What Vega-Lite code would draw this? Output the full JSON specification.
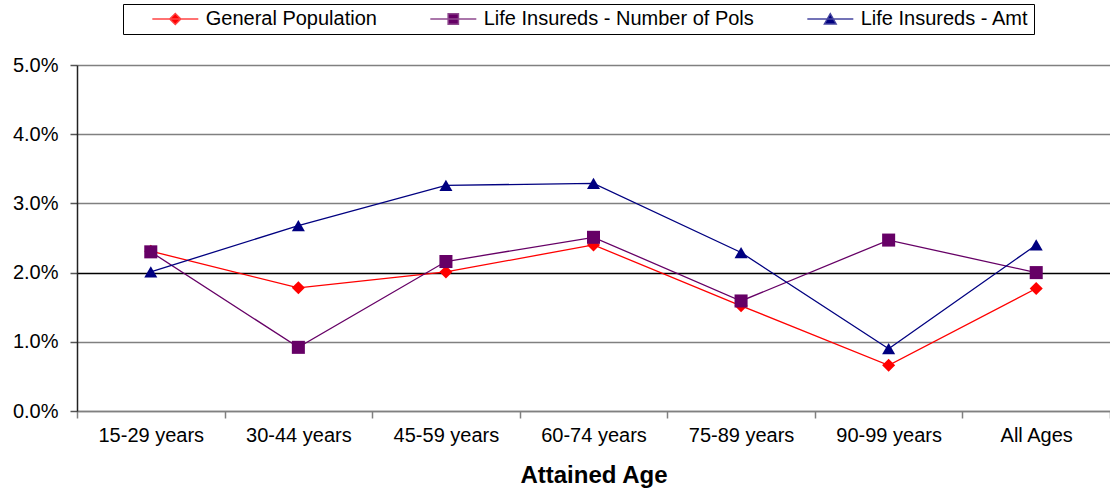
{
  "$schema": "https://vega.github.io/schema/vega-lite/v6.json",
  "autosize": "none",
  "width": 1033,
  "height": 346,
  "padding": {"left": 77, "top": 65, "right": 0, "bottom": 78},
  "background": "white",
  "config": {
    "font": "Liberation Sans",
    "view": {"stroke": null},
    "legend": {
      "orient": "none",
      "legendX": 46,
      "legendY": -61,
      "direction": "horizontal",
      "padding": 5,
      "strokeColor": "black",
      "fillColor": "white",
      "labelFont": "Liberation Sans",
      "labelFontSize": 20,
      "labelColor": "black",
      "labelLimit": 500,
      "symbolSize": 256,
      "symbolStrokeWidth": 1.4,
      "labelOffset": 57.7,
      "columnPadding": 29,
      "title": null
    }
  },
  "data": {
    "values": [
      {"age": "15-29 years", "series": "General Population", "rate": 0.0231},
      {"age": "30-44 years", "series": "General Population", "rate": 0.0178},
      {"age": "45-59 years", "series": "General Population", "rate": 0.0201},
      {"age": "60-74 years", "series": "General Population", "rate": 0.0240},
      {"age": "75-89 years", "series": "General Population", "rate": 0.0152},
      {"age": "90-99 years", "series": "General Population", "rate": 0.0066},
      {"age": "All Ages", "series": "General Population", "rate": 0.0177},
      {"age": "15-29 years", "series": "Life Insureds - Number of Pols", "rate": 0.0230},
      {"age": "30-44 years", "series": "Life Insureds - Number of Pols", "rate": 0.0092},
      {"age": "45-59 years", "series": "Life Insureds - Number of Pols", "rate": 0.0216},
      {"age": "60-74 years", "series": "Life Insureds - Number of Pols", "rate": 0.0251},
      {"age": "75-89 years", "series": "Life Insureds - Number of Pols", "rate": 0.0159},
      {"age": "90-99 years", "series": "Life Insureds - Number of Pols", "rate": 0.0247},
      {"age": "All Ages", "series": "Life Insureds - Number of Pols", "rate": 0.0200},
      {"age": "15-29 years", "series": "Life Insureds - Amt", "rate": 0.0201},
      {"age": "30-44 years", "series": "Life Insureds - Amt", "rate": 0.0268},
      {"age": "45-59 years", "series": "Life Insureds - Amt", "rate": 0.0326},
      {"age": "60-74 years", "series": "Life Insureds - Amt", "rate": 0.0329},
      {"age": "75-89 years", "series": "Life Insureds - Amt", "rate": 0.0229},
      {"age": "90-99 years", "series": "Life Insureds - Amt", "rate": 0.0090},
      {"age": "All Ages", "series": "Life Insureds - Amt", "rate": 0.0240}
    ]
  },
  "encoding": {
    "x": {
      "field": "age",
      "type": "nominal",
      "bandPosition": 0.5,
      "sort": null,
      "scale": {"type": "band", "paddingInner": 0, "paddingOuter": 0},
      "axis": {
        "title": "Attained Age",
        "titleFont": "Liberation Sans",
        "titleFontSize": 24,
        "titleFontWeight": "bold",
        "titleColor": "black",
        "titlePadding": 18,
        "labelAngle": 0,
        "labelFontSize": 20,
        "labelColor": "black",
        "labelPadding": 7,
        "tickBand": "extent",
        "tickSize": 7,
        "tickColor": "#808080",
        "tickWidth": 1.5,
        "domainColor": "#808080",
        "domainWidth": 1.5,
        "grid": false
      }
    },
    "y": {
      "field": "rate",
      "type": "quantitative",
      "scale": {"domain": [0, 0.05], "nice": false},
      "axis": {
        "title": null,
        "format": ".1%",
        "values": [0, 0.01, 0.02, 0.03, 0.04, 0.05],
        "labelFontSize": 20,
        "labelColor": "black",
        "labelPadding": 12,
        "tickSize": 7,
        "tickColor": "#555555",
        "tickWidth": 1.5,
        "domainColor": "#222222",
        "domainWidth": 1.5,
        "grid": true,
        "gridColor": {"condition": {"test": "abs(datum.value - 0.02) < 1e-9", "value": "#000000"}, "value": "#808080"},
        "gridWidth": 1.5
      }
    }
  },
  "layer": [
    {
      "mark": {"type": "line", "strokeWidth": 1.3},
      "encoding": {
        "color": {
          "field": "series",
          "type": "nominal",
          "scale": {"domain": ["General Population", "Life Insureds - Number of Pols", "Life Insureds - Amt"], "range": ["#FF0000", "#660066", "#000080"]},
          "legend": null
        }
      }
    },
    {
      "mark": {"type": "point", "filled": true, "opacity": 1},
      "encoding": {
        "color": {
          "field": "series",
          "type": "nominal",
          "scale": {"domain": ["General Population", "Life Insureds - Number of Pols", "Life Insureds - Amt"], "range": ["#FF0000", "#660066", "#000080"]},
          "legend": null
        },
        "shape": {
          "field": "series",
          "type": "nominal",
          "scale": {"domain": ["General Population", "Life Insureds - Number of Pols", "Life Insureds - Amt"], "range": ["diamond", "square", "triangle-up"]},
          "legend": null
        },
        "size": {"value": 170}
      }
    },
    {
      "transform": [{"filter": "false"}],
      "mark": {"type": "point", "filled": true, "opacity": 1},
      "encoding": {
        "fill": {
          "field": "series",
          "type": "nominal",
          "scale": {"domain": ["General Population", "Life Insureds - Number of Pols", "Life Insureds - Amt"], "range": ["#FF0000", "#660066", "#000080"]},
          "legend": {"labelExpr": "datum.label === 'Life Insureds - Amt' ? datum.label + '\u00a0\u00a0\u00a0\u00a0' : datum.label"}
        },
        "stroke": {
          "field": "series",
          "type": "nominal",
          "scale": {"domain": ["General Population", "Life Insureds - Number of Pols", "Life Insureds - Amt"], "range": ["#FF4444", "#8E4A8E", "#4646A0"]},
          "legend": {"labelExpr": "datum.label === 'Life Insureds - Amt' ? datum.label + '\u00a0\u00a0\u00a0\u00a0' : datum.label"}
        },
        "shape": {
          "field": "series",
          "type": "nominal",
          "scale": {"domain": ["General Population", "Life Insureds - Number of Pols", "Life Insureds - Amt"], "range": ["M1.79,0H7.54M4.66,-0.7L5.36,0L4.66,0.7L3.96,0Z", "M1.79,0H7.54M4.01,-0.65H5.31V0.65H4.01Z", "M1.79,0H7.54M4.66,-0.68L5.4,0.62L3.92,0.62Z"]},
          "legend": {"labelExpr": "datum.label === 'Life Insureds - Amt' ? datum.label + '\u00a0\u00a0\u00a0\u00a0' : datum.label"}
        }
      }
    }
  ],
  "resolve": {"scale": {"shape": "independent", "fill": "independent", "stroke": "independent"}}
}
